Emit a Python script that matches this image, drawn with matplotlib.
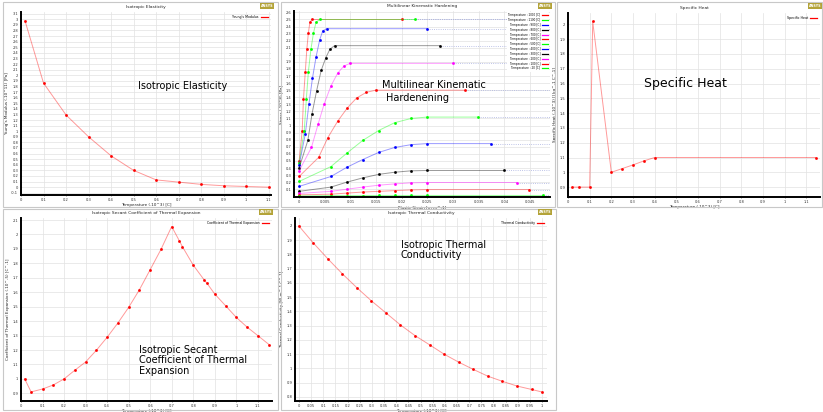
import numpy as np
import matplotlib
matplotlib.use("Agg")
import matplotlib.pyplot as plt
from matplotlib import ticker
from matplotlib.patches import Rectangle

W, H = 823, 412

# ---- Isotropic Elasticity
el_temp = [0.018, 0.1, 0.2, 0.3, 0.4, 0.5, 0.6, 0.7, 0.8, 0.9, 1.0, 1.1]
el_young = [2.97, 1.86, 1.29, 0.90, 0.56, 0.30, 0.13, 0.09, 0.05, 0.025, 0.012, 0.0]

# ---- Multilinear Kinematic Hardening (one list per temperature curve)
hk_labels = ["Temperature : 1000 [C]", "Temperature : 1100 [C]", "Temperature : 900 [C]",
             "Temperature : 800 [C]", "Temperature : 700 [C]", "Temperature : 600 [C]",
             "Temperature : 500 [C]", "Temperature : 400 [C]", "Temperature : 300 [C]",
             "Temperature : 200 [C]", "Temperature : 100 [C]", "Temperature : 20 [C]"]
hk_strain = [
    [0, 0.0006, 0.00084, 0.0012, 0.0015, 0.0018, 0.0021, 0.0025, 0.020],
    [0, 0.0010, 0.0014, 0.0018, 0.0023, 0.0028, 0.0033, 0.0040, 0.0225],
    [0, 0.0012, 0.0019, 0.0026, 0.0033, 0.0040, 0.0046, 0.0054, 0.025],
    [0, 0.0017, 0.0025, 0.0034, 0.0043, 0.0052, 0.0060, 0.0069, 0.0275],
    [0, 0.0024, 0.0037, 0.0049, 0.0062, 0.0075, 0.0087, 0.0099, 0.030],
    [0, 0.0038, 0.0056, 0.0075, 0.0094, 0.0112, 0.0131, 0.0149, 0.0324],
    [0, 0.0062, 0.0093, 0.0124, 0.0155, 0.0186, 0.0218, 0.0249, 0.0349],
    [0, 0.0062, 0.0093, 0.0124, 0.0155, 0.0186, 0.0218, 0.0249, 0.0374],
    [0, 0.0062, 0.0093, 0.0124, 0.0155, 0.0186, 0.0218, 0.0249, 0.0399],
    [0, 0.0062, 0.0093, 0.0124, 0.0155, 0.0186, 0.0218, 0.0249, 0.0424],
    [0, 0.0062, 0.0093, 0.0124, 0.0155, 0.0186, 0.0218, 0.0249, 0.0449],
    [0, 0.0062, 0.0093, 0.0124, 0.0155, 0.0186, 0.0218, 0.0249, 0.0475],
]
hk_stress = [
    [0.50, 0.93, 1.37, 1.76, 2.08, 2.31, 2.46, 2.50, 2.50],
    [0.47, 0.93, 1.37, 1.76, 2.08, 2.31, 2.46, 2.50, 2.50],
    [0.44, 0.88, 1.30, 1.67, 1.97, 2.21, 2.34, 2.37, 2.37],
    [0.40, 0.79, 1.16, 1.49, 1.78, 1.96, 2.08, 2.13, 2.13],
    [0.36, 0.69, 1.02, 1.31, 1.56, 1.74, 1.84, 1.88, 1.88],
    [0.28, 0.55, 0.83, 1.06, 1.25, 1.39, 1.47, 1.50, 1.50],
    [0.21, 0.42, 0.61, 0.79, 0.93, 1.04, 1.10, 1.12, 1.12],
    [0.14, 0.28, 0.41, 0.52, 0.62, 0.69, 0.73, 0.745, 0.745],
    [0.07, 0.13, 0.20, 0.26, 0.31, 0.34, 0.36, 0.365, 0.365],
    [0.04, 0.07, 0.10, 0.13, 0.157, 0.175, 0.19, 0.195, 0.195],
    [0.02, 0.03, 0.045, 0.06, 0.07, 0.08, 0.09, 0.095, 0.095],
    [0.005, 0.01, 0.01, 0.01, 0.012, 0.012, 0.012, 0.012, 0.012],
]
hk_colors = ["red", "lime", "blue", "black", "magenta"] * 3

# ---- Specific Heat
sh_temp = [0.02, 0.05, 0.1, 0.114, 0.2, 0.25, 0.3, 0.35, 0.4, 1.143]
sh_value = [0.9, 0.9, 0.9, 2.02, 1.0, 1.025, 1.05, 1.077, 1.10, 1.10]

# ---- Isotropic Secant Coefficient of Thermal Expansion
cte_temp = [0.017, 0.047, 0.1, 0.15, 0.2, 0.25, 0.3, 0.35, 0.4, 0.45, 0.5, 0.55, 0.6,
            0.65, 0.7, 0.736, 0.75, 0.8, 0.85, 0.862, 0.9, 0.95, 1.0, 1.05, 1.1, 1.152]
cte_value = [1.0, 0.91, 0.93, 0.958, 1.0, 1.06, 1.117, 1.198, 1.288, 1.387, 1.495, 1.617,
             1.756, 1.896, 2.055, 1.955, 1.915, 1.788, 1.687, 1.666, 1.588, 1.507, 1.426,
             1.359, 1.30, 1.238]

# ---- Isotropic Thermal Conductivity
tc_temp = [0, 0.058, 0.118, 0.178, 0.239, 0.298, 0.358, 0.417, 0.477, 0.539, 0.597,
           0.657, 0.717, 0.776, 0.837, 0.897, 0.957, 1.0]
tc_value = [2.0, 1.883, 1.771, 1.665, 1.565, 1.474, 1.389, 1.305, 1.230, 1.163, 1.099,
            1.043, 0.992, 0.945, 0.908, 0.875, 0.851, 0.833]

fig = plt.figure(figsize=(W / 100, H / 100), dpi=100)
fig.patch.set_facecolor("white")


def fbox(l, t, r, b):
    return [l / W, 1 - b / H, (r - l) / W, (b - t) / H]


def frame(l, t, r, b):
    fig.add_artist(Rectangle((l / W, 1 - b / H), (r - l) / W, (b - t) / H,
                             transform=fig.transFigure, fill=False,
                             edgecolor="#c8c8c8", lw=0.8))


def logo(x, y):
    fig.text(x / W, 1 - y / H, "ANSYS", fontsize=2.4, color="white", weight="bold",
             ha="right", va="center",
             bbox=dict(boxstyle="square,pad=0.25", fc="#b3a338", ec="none"))


fmt = ticker.FuncFormatter(lambda v, p: f"{round(v, 4):g}")


def setup(ax, title, xlabel, ylabel, xlim, ylim, xticks, yticks):
    ax.set_xlim(*xlim)
    ax.set_ylim(*ylim)
    ax.set_xticks(xticks)
    ax.set_yticks(yticks)
    ax.xaxis.set_major_formatter(fmt)
    ax.yaxis.set_major_formatter(fmt)
    ax.grid(True, color="#e2e2e2", lw=0.5)
    ax.set_axisbelow(True)
    for s in ["top", "right"]:
        ax.spines[s].set_visible(False)
    for s in ["left", "bottom"]:
        ax.spines[s].set_linewidth(1.4)
        ax.spines[s].set_color("black")
    ax.tick_params(labelsize=2.6, length=1.0, width=0.4, pad=1.0, colors="#333333")
    ax.set_title(title, fontsize=3.2, pad=3, color="#222222")
    ax.set_xlabel(xlabel, fontsize=3, labelpad=0.8, color="#222222")
    ax.set_ylabel(ylabel, fontsize=3, labelpad=1.5, color="#222222")


def series(ax, x, y, color, label):
    ax.plot(x, y, color=color, alpha=0.4, lw=0.7)
    ax.plot(x, y, ls="none", marker="s", ms=0.9, color=color, mec=color)
    ax.plot([], [], color=color, lw=0.9, label=label)


def legend(ax, **kw):
    lg = ax.legend(loc="upper right", fontsize=2.3, markerfirst=False, frameon=False,
                   handlelength=2, handletextpad=0.8, labelspacing=0.35,
                   borderaxespad=0.6, **kw)
    return lg


# frames
frame(3, 2, 278, 207)
frame(281, 2, 555, 207)
frame(557, 2, 822, 207)
frame(3, 209, 278, 410)
frame(281, 209, 556, 410)

# ---- Panel A
ax = fig.add_axes(fbox(21, 12, 271, 195))
series(ax, el_temp, el_young, "red", "Young's Modulus")
setup(ax, "Isotropic Elasticity", "Temperature (.10^3) [C]", "Young's Modulus (.10^11) [Pa]",
      (0, 1.11), (-0.14, 3.13), np.arange(0, 1.15, 0.1), np.arange(-0.1, 3.15, 0.1))
legend(ax)
ax.text(0.47, 0.58, "Isotropic Elasticity", transform=ax.transAxes, fontsize=7)
logo(273, 6)

# ---- Panel B
ax = fig.add_axes(fbox(294, 11, 550, 197))
xmax = 0.0489
for xs, ys, c, lab in zip(hk_strain, hk_stress, hk_colors, hk_labels):
    ax.plot([xs[-1], xmax], [ys[-1], ys[-1]], ls=":", color="#a8b0e0", lw=0.6)
    series(ax, xs, ys, c, lab)
setup(ax, "Multilinear Kinematic Hardening", "Plastic Strain [m m^-1]", "Stress (.10^8) [Pa]",
      (-0.001, xmax), (-0.01, 2.62), np.arange(0, 0.0451, 0.005), np.arange(0.1, 2.65, 0.1))
lg = ax.legend(loc="upper right", fontsize=2.0, markerfirst=False, frameon=True,
               handlelength=2, handletextpad=0.8, labelspacing=0.3, borderaxespad=0.4)
lg.get_frame().set_linewidth(0)
lg.get_frame().set_facecolor("white")
lg.get_frame().set_alpha(1)
ax.text(0.345, 0.585, "Multilinear Kinematic", transform=ax.transAxes, fontsize=7)
ax.text(0.36, 0.515, "Hardenening", transform=ax.transAxes, fontsize=7)
logo(551, 6)

# ---- Panel C
ax = fig.add_axes(fbox(568, 13, 820, 197))
series(ax, sh_temp, sh_value, "red", "Specific Heat")
setup(ax, "Specific Heat", "Temperature (.10^3) [C]", "Specific Heat (.10^3) [J kg^-1 C^-1]",
      (0, 1.163), (0.833, 2.077), np.arange(0, 1.15, 0.1), np.arange(0.9, 2.05, 0.1))
legend(ax)
ax.text(0.3, 0.6, "Specific Heat", transform=ax.transAxes, fontsize=9)
logo(821, 6)

# ---- Panel D
ax = fig.add_axes(fbox(21, 218, 272, 401))
series(ax, cte_temp, cte_value, "red", "Coefficient of Thermal Expansion")
setup(ax, "Isotropic Secant Coefficient of Thermal Expansion", "Temperature (.10^3) [C]",
      "Coefficient of Thermal Expansion (.10^-5) [C^-1]",
      (0, 1.166), (0.847, 2.114), np.arange(0, 1.15, 0.1), np.arange(0.9, 2.15, 0.1))
legend(ax)
ax.text(0.47, 0.15, "Isotropic Secant\nCoefficient of Thermal\nExpansion",
        transform=ax.transAxes, fontsize=7, linespacing=1.05)
logo(272, 212)

# ---- Panel E
ax = fig.add_axes(fbox(295, 218, 547, 401))
series(ax, tc_temp, tc_value, "red", "Thermal Conductivity")
setup(ax, "Isotropic Thermal Conductivity", "Temperature (.10^3) [C]",
      "Thermal Conductivity [W m^-1 C^-1]",
      (-0.016, 1.02), (0.77, 2.056), np.arange(0, 1.01, 0.05), np.arange(0.8, 2.05, 0.1))
legend(ax)
ax.text(0.42, 0.78, "Isotropic Thermal\nConductivity", transform=ax.transAxes,
        fontsize=7, linespacing=1.05)
logo(551, 212)

fig.savefig("out.png", dpi=100, facecolor="white")
